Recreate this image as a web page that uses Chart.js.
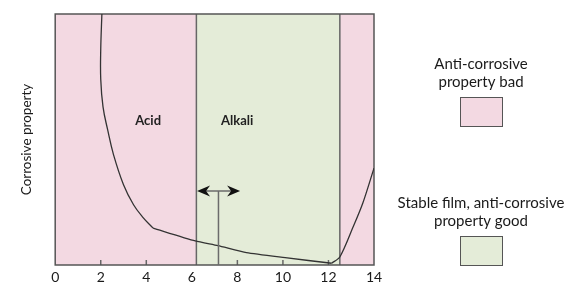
<!DOCTYPE html>
<html>
<head>
<meta charset="utf-8">
<script src="https://cdn.jsdelivr.net/npm/chart.js@4.4.0/dist/chart.umd.min.js"></script>
<style>
  html, body { margin: 0; padding: 0; background: #fff; }
  #wrap { width: 570px; height: 284px; }
</style>
</head>
<body>
<div id="wrap"><canvas id="chart"></canvas></div>
<script>
  // pH axis
  const xTicks = [0, 2, 4, 6, 8, 10, 12, 14];
  const tickMarks = [2, 4, 8, 10, 12];

  // regions (pH from / to) and which kind they are
  const regionStart = [0, 6.2, 12.5];
  const regionEnd = [6.2, 12.5, 14];
  const regionKind = ["bad", "good", "bad"];

  // corrosion curve, three pieces
  const acidX = [2.05, 2.0, 2.0, 2.1, 2.3, 2.56, 3.0, 3.44, 3.85, 4.3];
  const acidY = [100, 86, 74, 63, 54, 44, 32, 24, 19, 14.7];
  const midX = [4.3, 6.15, 7.15, 8.4, 10.1, 12.14];
  const midY = [14.7, 9.6, 7.7, 4.9, 2.9, 0.7];
  const alkX = [12.14, 12.5, 13.08, 13.51, 14];
  const alkY = [0.7, 3.2, 15.1, 24.7, 38.6];

  // range arrow
  const arrowX = [6.23, 8.12];
  const arrowLevel = 29.5;
  const arrowStem = 7.17;

  // in-plot labels
  const zoneLabels = ["Acid", "Alkali"];
  const zoneLabelX = [4.08, 7.99];
  const zoneLabelY = [57.4, 57.4];

  // legend
  const legendLines = [["Anti-corrosive", "property bad"], ["Stable film, anti-corrosive", "property good"]];
  const legendKind = ["bad", "good"];

  const fills = { bad: "#f3d9e2", good: "#e4ecd8" };
  const font = "Lato, 'Noto Sans', sans-serif";

  const pts = (xs, ys) => xs.map((x, i) => ({ x, y: ys[i] }));

  const backdrop = {
    id: "backdrop",
    beforeDatasetsDraw(chart) {
      const { ctx, chartArea: a, scales: { x } } = chart;
      ctx.save();
      regionStart.forEach((s, i) => {
        const x0 = x.getPixelForValue(s), x1 = x.getPixelForValue(regionEnd[i]);
        ctx.fillStyle = fills[regionKind[i]];
        ctx.fillRect(x0, a.top, x1 - x0, a.bottom - a.top);
      });
      ctx.strokeStyle = "#666";
      ctx.lineWidth = 1.5;
      regionStart.slice(1).forEach(s => {
        const px = x.getPixelForValue(s);
        ctx.beginPath();
        ctx.moveTo(px, a.top);
        ctx.lineTo(px, a.bottom);
        ctx.stroke();
      });
      tickMarks.forEach(t => {
        const px = x.getPixelForValue(t);
        ctx.beginPath();
        ctx.moveTo(px, a.bottom);
        ctx.lineTo(px, a.bottom - 5);
        ctx.stroke();
      });
      ctx.strokeStyle = "#555";
      ctx.strokeRect(a.left, a.top, a.right - a.left, a.bottom - a.top);

      // labels
      ctx.fillStyle = "#222";
      ctx.font = "bold 13px " + font;
      ctx.textAlign = "center";
      ctx.textBaseline = "middle";
      zoneLabels.forEach((t, i) => {
        ctx.fillText(t, x.getPixelForValue(zoneLabelX[i]), chart.scales.y.getPixelForValue(zoneLabelY[i]));
      });
      ctx.restore();
    },
    afterDatasetsDraw(chart) {
      const { ctx, scales: { x, y } } = chart;
      ctx.save();
      const yy = y.getPixelForValue(arrowLevel);
      const xl = x.getPixelForValue(arrowX[0]), xr = x.getPixelForValue(arrowX[1]);
      const sx = x.getPixelForValue(arrowStem);
      ctx.strokeStyle = "#6b6b6b";
      ctx.lineWidth = 1.5;
      ctx.beginPath();
      ctx.moveTo(sx, yy);
      ctx.lineTo(sx, y.getPixelForValue(0));
      ctx.moveTo(xl + 8, yy);
      ctx.lineTo(xr - 8, yy);
      ctx.stroke();
      ctx.fillStyle = "#111";
      [[xl, 1], [xr, -1]].forEach(([tip, d]) => {
        ctx.beginPath();
        ctx.moveTo(tip, yy);
        ctx.lineTo(tip + d * 13, yy - 5.5);
        ctx.lineTo(tip + d * 9, yy);
        ctx.lineTo(tip + d * 13, yy + 5.5);
        ctx.closePath();
        ctx.fill();
      });
      ctx.restore();
    },
    afterDraw(chart) {
      const { ctx } = chart;
      ctx.save();
      ctx.font = "15px " + font;
      ctx.textAlign = "center";
      ctx.textBaseline = "alphabetic";
      const cx = 481;
      const tops = [69, 208];
      legendLines.forEach((lines, i) => {
        ctx.fillStyle = "#1a1a1a";
        lines.forEach((l, j) => ctx.fillText(l, cx, tops[i] + j * 18));
        const by = tops[i] + 28;
        ctx.fillStyle = fills[legendKind[i]];
        ctx.fillRect(cx - 21, by, 42, 29);
        ctx.strokeStyle = "#555";
        ctx.lineWidth = 1;
        ctx.strokeRect(cx - 21 + 0.5, by + 0.5, 42, 29);
      });
      ctx.restore();
    }
  };

  const lineStyle = { borderColor: "#333", borderWidth: 1.3, pointRadius: 0, fill: false };

  new Chart(document.getElementById("chart"), {
    type: "line",
    data: {
      datasets: [
        { ...lineStyle, data: pts(acidX, acidY), tension: 0.4 },
        { ...lineStyle, data: pts(midX, midY), tension: 0.2 },
        { ...lineStyle, data: pts(alkX, alkY), tension: 0.3 }
      ]
    },
    options: {
      responsive: true,
      maintainAspectRatio: false,
      animation: false,
      layout: { padding: { left: 15, right: 196, top: 14, bottom: 0 } },
      plugins: { legend: { display: false }, tooltip: { enabled: false } },
      scales: {
        x: {
          type: "linear",
          min: 0,
          max: 14,
          afterBuildTicks: s => { s.ticks = xTicks.map(v => ({ value: v })); },
          afterFit: s => { s.height = 19; },
          grid: { display: false, drawTicks: false },
          border: { display: false },
          ticks: { color: "#1a1a1a", font: { family: font, size: 14 }, padding: 4.5 }
        },
        y: {
          min: 0,
          max: 100,
          grid: { display: false, drawTicks: false },
          border: { display: false },
          ticks: { display: false },
          title: { display: true, text: "Corrosive property", color: "#1a1a1a", font: { family: font, size: 13.5 }, padding: { top: 4, bottom: 20 } }
        }
      }
    },
    plugins: [backdrop]
  });
</script>
</body>
</html>
